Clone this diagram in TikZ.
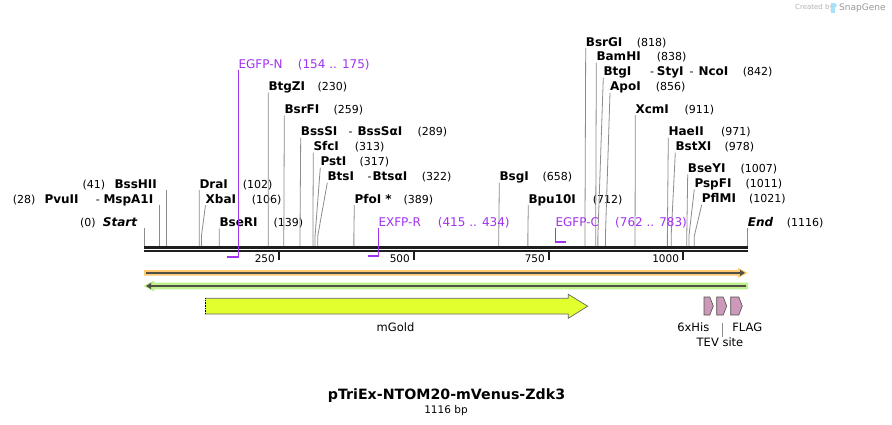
\documentclass[tikz,border=0pt]{standalone}
\usepackage{fontspec}
\setmainfont{DejaVu Sans}
\usetikzlibrary{arrows.meta}
\definecolor{prim}{RGB}{160,50,240}
\definecolor{cutgray}{RGB}{140,140,140}
\definecolor{rulerblack}{RGB}{30,30,30}
\definecolor{orbnd}{RGB}{255,200,115}
\definecolor{grbnd}{RGB}{190,240,140}
\definecolor{darkln}{RGB}{80,80,70}
\definecolor{gold}{RGB}{226,255,46}
\definecolor{pinkf}{RGB}{204,153,187}
\tikzset{
  enz/.style={font=\bfseries\fontsize{12}{14}\selectfont, inner sep=0pt, anchor=base west},
  num/.style={font=\fontsize{11}{13}\selectfont, inner sep=0pt, anchor=base west},
  primlbl/.style={font=\fontsize{12}{14}\selectfont, text=prim, inner sep=0pt, anchor=base west},
  featlbl/.style={font=\fontsize{11.5}{13}\selectfont, inner sep=0pt, anchor=base},
  ticklbl/.style={font=\fontsize{10.5}{12}\selectfont, inner sep=0pt, anchor=base east},
  cutline/.style={draw=cutgray, line width=0.8pt},
  primline/.style={draw=prim, line width=1.3pt},
  primbar/.style={draw=prim, line width=2pt},
}
\newcommand\cutR[7]{%
  \node[enz] (#1) at (#3,#4+4.3) {#5};
  \node[num] (#1n) at (#6,#4+4.3) {#7};
  \draw[cutline] ({144.3+0.5387*#2},246) -- ({144.3+0.5387*#2},236) -- (#3,#4+6);
}
\newcommand\xpart[5]{%
  \node[num] (#1h) at (#2,#4+4.3) {-};
  \node[enz] (#1b) at (#3,#4+4.3) {#5};
}
\begin{document}
\begin{tikzpicture}[x=1pt,y=-1pt]
\useasboundingbox (0,0) rectangle (892,425);
\fill[white] (0,0) rectangle (892,425);

% watermark
\node[font=\fontsize{7}{8}\selectfont, text=gray!60, inner sep=0pt, anchor=base west] (cby) at (795,10) {Created by};
\fill[cyan!35] (831,3) rectangle (834.5,13);
\fill[cyan!35] (834.5,3) -- (837,5) -- (834.5,9) -- cycle;
\node[font=\fontsize{9}{10}\selectfont, text=gray!80, inner sep=0pt, anchor=base west] (sg) at (839,11) {SnapGene};

% ruler
\draw[rulerblack, line width=2.6pt] (144.3,247.3) -- (748,247.3);
\draw[rulerblack, line width=2.4pt] (144.3,251.2) -- (748,251.2);
\foreach \tx/\tl in {278.8/250, 413.8/500, 548.8/750, 683/1000}{
  \draw[rulerblack, line width=1.5pt] (\tx,252) -- (\tx,259.5);
  \node[ticklbl] (t\tl) at (\tx-3.8,262.7) {\tl};
}

% left-side cut sites
\draw[cutline] (144.3,246) -- (144.3,228.3);
\node[enz, anchor=base east, font=\bfseries\itshape\fontsize{12}{14}\selectfont] (start) at (137.3,226.6) {Start};
\node[num] (startn) at (80,226.6) {(0)};
\draw[cutline] (159.4,246) -- (159.4,205.3);
\node[num] (pvun) at (12.7,203.6) {(28)};
\node[enz] (pvu) at (44.3,203.6) {PvuII};
\node[num] (pvuh) at (95.7,203.6) {-};
\node[enz] (msp) at (103.3,203.6) {MspA1I};
\draw[cutline] (166.4,246) -- (166.4,190);
\node[num] (bsshn) at (82.3,188.3) {(41)};
\node[enz] (bssh) at (114.3,188.3) {BssHII};

% right-side cut sites
\cutR{dra}{102}{199.3}{184}{DraI}{242.7}{(102)}
\cutR{xba}{106}{205.5}{199.3}{XbaI}{251.7}{(106)}
\cutR{bser}{139}{219.3}{222.3}{BseRI}{273.3}{(139)}
\cutR{btgz}{230}{268.3}{86.7}{BtgZI}{317.3}{(230)}
\cutR{bsrf}{259}{284.3}{109.3}{BsrFI}{333.3}{(259)}
\cutR{bsss}{289}{300.7}{131.7}{BssSI}{417.3}{(289)}
\xpart{bsss}{348.3}{357.3}{131.7}{BssSαI}
\cutR{sfc}{313}{313.3}{146.7}{SfcI}{354.7}{(313)}
\cutR{pst}{317}{320.3}{161.7}{PstI}{359.3}{(317)}
\cutR{bts}{322}{327.3}{176.7}{BtsI}{421.7}{(322)}
\xpart{bts}{367.3}{372.3}{176.7}{BtsαI}
\cutR{pfo}{389}{354.3}{199}{PfoI *}{403.3}{(389)}
\cutR{bsg}{658}{499.3}{176.7}{BsgI}{542.3}{(658)}
\cutR{bpu}{712}{528.3}{199}{Bpu10I}{592.7}{(712)}
\cutR{bsrg}{818}{585.7}{42}{BsrGI}{636.7}{(818)}
\cutR{bam}{838}{596.3}{56.7}{BamHI}{656.7}{(838)}
\cutR{btg}{842}{603.3}{71.7}{BtgI}{742.7}{(842)}
\xpart{sty}{650}{656.7}{71.7}{StyI}
\xpart{nco}{689.3}{698.3}{71.7}{NcoI}
\cutR{apo}{856}{610}{86.7}{ApoI}{655.7}{(856)}
\cutR{xcm}{911}{635.3}{109}{XcmI}{684.3}{(911)}
\cutR{hae}{971}{668.3}{131.7}{HaeII}{721}{(971)}
\cutR{bstx}{978}{675.3}{146.7}{BstXI}{724.3}{(978)}
\cutR{bsey}{1007}{687.7}{168.3}{BseYI}{740.3}{(1007)}
\cutR{pspf}{1011}{694.3}{183.3}{PspFI}{745.3}{(1011)}
\cutR{pflm}{1021}{701.7}{198.7}{PflMI}{749}{(1021)}
\draw[cutline] (747.7,246) -- (747.7,227.7);
\node[enz, font=\bfseries\itshape\fontsize{12}{14}\selectfont] (endl) at (747.7,226) {End};
\node[num] (endn) at (786.7,226) {(1116)};

% primers
\node[primlbl] (egfpn) at (238.3,68.3) {EGFP-N};
\node[primlbl] (egfpnn) at (297.7,68.3) {(154 .. 175)};
\draw[primline] (238.5,70) -- (238.5,256.5);
\draw[primbar] (239.1,256.5) -- (227.3,256.5);
\node[primlbl] (exfpr) at (378.3,226.6) {EXFP-R};
\node[primlbl] (exfprn) at (437.7,226.6) {(415 .. 434)};
\draw[primline] (378.3,227.5) -- (378.3,255.7);
\draw[primbar] (378.9,255.7) -- (368.3,255.7);
\node[primlbl] (egfpc) at (555.3,226.6) {EGFP-C};
\node[primlbl] (egfpcn) at (615,226.6) {(762 .. 783)};
\draw[primline] (555.3,227.5) -- (555.3,242.3);
\draw[primbar] (554.7,242.3) -- (565.7,242.3);

% strands
\fill[orbnd] (144,270) -- (738,270) -- (738,267.8) -- (747.5,272.9) -- (738,278) -- (738,275.7) -- (144,275.7) -- cycle;
\draw[darkln, line width=2pt, -{Triangle[length=5pt,width=6pt]}] (146,272.9) -- (745,272.9);
\fill[grbnd] (748,282.7) -- (154,282.7) -- (154,280.5) -- (143.5,286) -- (154,291.5) -- (154,289.3) -- (748,289.3) -- cycle;
\draw[darkln, line width=2pt, -{Triangle[length=5pt,width=6pt]}] (746,286) -- (146,286);

% mGold
\fill[gold] (205,298.3) -- (568.3,298.3) -- (568.3,294.3) -- (587.7,306.2) -- (568.3,318.3) -- (568.3,314) -- (205,314) -- cycle;
\draw[gray!80!black, line width=0.7pt] (205,298.3) -- (568.3,298.3) -- (568.3,294.3) -- (587.7,306.2) -- (568.3,318.3) -- (568.3,314) -- (205,314);
\draw[black, line width=0.6pt, densely dotted] (205,298.3) -- (205,314);
\node[featlbl] (mgold) at (395.5,331.5) {mGold};

% small features
\foreach \a/\b [count=\i] in {704/713.3, 716.7/726.7, 730.7/742.3}{
  \filldraw[fill=pinkf, draw=darkln, line width=0.6pt] (\a,297) -- (\b-3.5,297) -- (\b,306) -- (\b-3.5,315) -- (\a,315) -- cycle;
}
\node[featlbl, font=\fontsize{11.5}{13}\selectfont] (his) at (693.3,331.5) {6xHis};
\node[featlbl, font=\fontsize{11.5}{13}\selectfont] (flag) at (747.3,331.5) {FLAG};
\draw[cutline] (722,323.3) -- (722,337.3);
\node[featlbl, font=\fontsize{11.5}{13}\selectfont] (tev) at (720,346.8) {TEV site};

% title
\node[font=\bfseries\fontsize{14.2}{16}\selectfont, inner sep=0pt, anchor=base] (title) at (446.5,399.8) {pTriEx-NTOM20-mVenus-Zdk3};
\node[font=\fontsize{10.5}{12}\selectfont, inner sep=0pt, anchor=base] (bp) at (446,413) {1116 bp};
\end{tikzpicture}
\end{document}
